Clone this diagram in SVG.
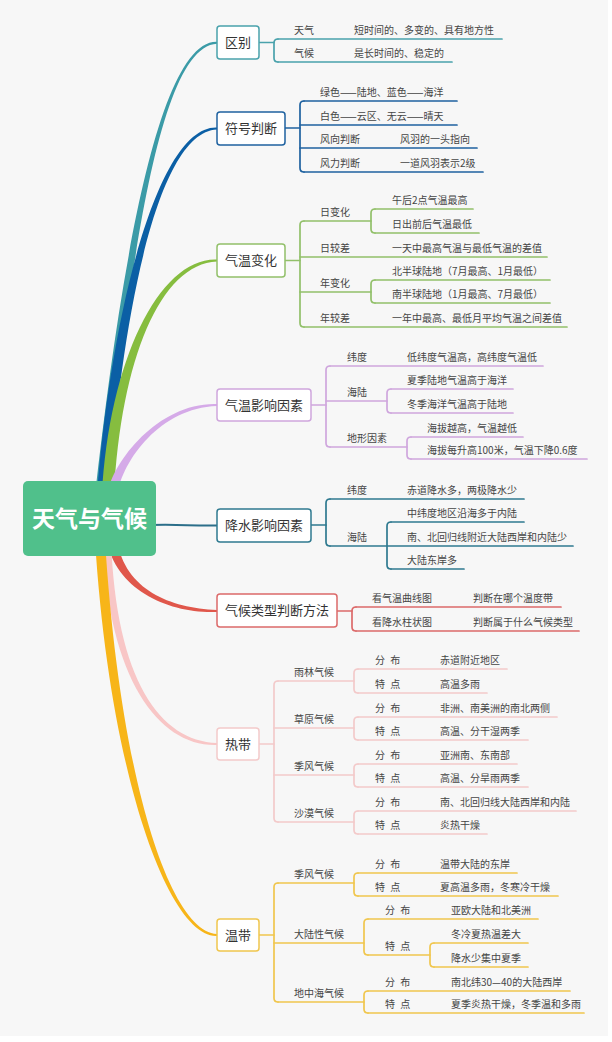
<svg xmlns="http://www.w3.org/2000/svg" width="612" height="1042" viewBox="0 0 612 1042">
<style>
text{font-family:"Noto Sans CJK SC","Noto Sans",sans-serif;}
.t{font-size:10px;fill:#454545;}
.s{letter-spacing:1.5px;}
.m{font-size:13px;fill:#333;text-anchor:middle;}
.box{fill:#fff;stroke-width:1.5;}
.ln{fill:none;stroke-width:1.7;stroke-linecap:round;}
.c1{stroke:#4aa2ac}.c2{stroke:#1f62a0}.c3{stroke:#92c06a}.c4{stroke:#cfa6dd}
.c5{stroke:#2f7a90}.c6{stroke:#dc6a6a}.c7{stroke:#f3caca}.c8{stroke:#f0c64e}
</style>
<rect x="0" y="0" width="612" height="1042" fill="#ffffff"/>
<rect x="0" y="0" width="608" height="1036" fill="#f7f7f7"/>
<g id="connectors">
  <!-- tapered main branches -->
  <path fill="#3b9ba7" d="M95 495 C117 300 155 40 217 41.8 L217 43.8 C155 46 127 300 105 495 Z"/>
  <path fill="#0b5fa5" d="M97 495 C109 330 155 125 217 127.5 L217 129.5 C155 132 121 330 109 495 Z"/>
  <path fill="#86bd3f" d="M102 495 C109 360 160 257 217 259.5 L217 261.5 C160 264 121 360 114 495 Z"/>
  <path fill="#d5aae8" d="M107 495 C113 460 160 402 217 404 L217 406 C160 408 123 460 117 495 Z"/>
  <path fill="#e0574b" d="M107 540 C115 590 170 614 217 612 L217 610 C170 608 125 590 117 540 Z"/>
  <path fill="#f8c6c6" d="M103 540 C108 680 160 747 217 745 L217 743 C160 741 116 680 111 540 Z"/>
  <path fill="#f7b519" d="M95 540 C110 780 170 938 217 936 L217 934 C170 932 120 780 105 540 Z"/>
  <path fill="none" stroke="#2c6f8a" stroke-width="2" d="M150 525 C180 524 190 526 217 525.5"/>

  <!-- 区别 -->
  <g class="ln c1">
    <path d="M259 42.5 H274"/>
    <path d="M278 39 Q274 39 274 43 V58 Q274 62 278 62"/>
    <path d="M278 39 H502"/><path d="M278 62 H452"/>
  </g>
  <!-- 符号判断 -->
  <g class="ln c2">
    <path d="M285 128 H300"/>
    <path d="M304 101 Q300 101 300 105 V168 Q300 172 304 172"/>
    <path d="M304 101 H457"/><path d="M300 125 H457"/><path d="M300 148 H477"/><path d="M304 172 H483"/>
  </g>
  <!-- 气温变化 -->
  <g class="ln c3">
    <path d="M285 260.5 H300"/>
    <path d="M304 221 Q300 221 300 225 V323 Q300 327 304 327"/>
    <path d="M304 221 H371"/><path d="M300 257 H547"/><path d="M300 292 H371"/><path d="M304 327 H567"/>
    <path d="M375 209 Q371 209 371 213 V229 Q371 233 375 233"/>
    <path d="M375 209 H473"/><path d="M375 233 H479"/>
    <path d="M375 280 Q371 280 371 284 V299 Q371 303 375 303"/>
    <path d="M375 280 H550"/><path d="M375 303 H550"/>
  </g>
  <!-- 气温影响因素 -->
  <g class="ln c4">
    <path d="M311 405 H326"/>
    <path d="M330 366 Q326 366 326 370 V443 Q326 447 330 447"/>
    <path d="M330 366 H543"/><path d="M326 401 H387"/><path d="M330 447 H407"/>
    <path d="M391 389 Q387 389 387 393 V409 Q387 413 391 413"/>
    <path d="M391 389 H513"/><path d="M391 413 H513"/>
    <path d="M411 437 Q407 437 407 441 V455 Q407 459 411 459"/>
    <path d="M411 437 H523"/><path d="M411 459 H587"/>
  </g>
  <!-- 降水影响因素 -->
  <g class="ln c5">
    <path d="M311 525 H326"/>
    <path d="M330 499 Q326 499 326 503 V542 Q326 546 330 546"/>
    <path d="M330 499 H524"/><path d="M330 546 H573"/>
    <path d="M391 522 Q387 522 387 526 V565 Q387 569 391 569"/>
    <path d="M391 522 H524"/><path d="M391 569 H464"/>
  </g>
  <!-- 气候类型判断方法 -->
  <g class="ln c6">
    <path d="M337 611 H352"/>
    <path d="M356 607 Q352 607 352 611 V627 Q352 631 356 631"/>
    <path d="M356 607 H561"/><path d="M356 631 H579"/>
  </g>
  <!-- 热带 -->
  <g class="ln c7">
    <path d="M259 744 H274"/>
    <path d="M278 681 Q274 681 274 685 V818 Q274 822 278 822"/>
    <path d="M278 681 H354"/><path d="M274 728 H354"/><path d="M274 775 H354"/><path d="M278 822 H354"/>
    <path d="M358 669 Q354 669 354 673 V689 Q354 693 358 693"/>
    <path d="M358 669 H507"/><path d="M358 693 H487"/>
    <path d="M358 717 Q354 717 354 721 V736 Q354 740 358 740"/>
    <path d="M358 717 H557"/><path d="M358 740 H528"/>
    <path d="M358 764 Q354 764 354 768 V783 Q354 787 358 787"/>
    <path d="M358 764 H517"/><path d="M358 787 H528"/>
    <path d="M358 811 Q354 811 354 815 V830 Q354 834 358 834"/>
    <path d="M358 811 H576"/><path d="M358 834 H487"/>
  </g>
  <!-- 温带 -->
  <g class="ln c8">
    <path d="M259 935 H274"/>
    <path d="M278 883 Q274 883 274 887 V998 Q274 1002 278 1002"/>
    <path d="M278 883 H354"/><path d="M274 943 H364"/><path d="M278 1002 H364"/>
    <path d="M358 873 Q354 873 354 877 V892 Q354 896 358 896"/>
    <path d="M358 873 H517"/><path d="M358 896 H558"/>
    <path d="M368 919 Q364 919 364 923 V951 Q364 955 368 955"/>
    <path d="M368 919 H538"/><path d="M368 955 H430"/>
    <path d="M434 943 Q430 943 430 947 V963 Q430 967 434 967"/>
    <path d="M434 943 H528"/><path d="M434 967 H528"/>
    <path d="M368 991 Q364 991 364 995 V1009 Q364 1013 368 1013"/>
    <path d="M368 991 H570"/><path d="M368 1013 H584"/>
  </g>
</g>

<g id="root">
  <rect x="23" y="481" width="133" height="75" rx="5" fill="#50c08b"/>
  <text x="89.5" y="527" font-size="23" font-weight="bold" fill="#fff" text-anchor="middle">天气与气候</text>
</g>

<g id="n-qubie"><rect class="box c1" x="217" y="26" width="42" height="33" rx="3"/><text class="m" x="238" y="47">区别</text></g>
<g id="n-fuhao"><rect class="box c2" x="217" y="112" width="68" height="33" rx="3"/><text class="m" x="251" y="133">符号判断</text></g>
<g id="n-qiwenbianhua"><rect class="box c3" x="217" y="244" width="68" height="33" rx="3"/><text class="m" x="251" y="265">气温变化</text></g>
<g id="n-qiwenyingxiang"><rect class="box c4" x="217" y="389" width="94" height="32" rx="3"/><text class="m" x="264" y="410">气温影响因素</text></g>
<g id="n-jiangshui"><rect class="box c5" x="217" y="509" width="94" height="33" rx="3"/><text class="m" x="264" y="530">降水影响因素</text></g>
<g id="n-panduan"><rect class="box c6" x="217" y="594" width="120" height="33" rx="3"/><text class="m" x="277" y="615">气候类型判断方法</text></g>
<g id="n-redai"><rect class="box c7" x="217" y="728" width="42" height="32" rx="3"/><text class="m" x="238" y="749">热带</text></g>
<g id="n-wendai"><rect class="box c8" x="217" y="919" width="42" height="32" rx="3"/><text class="m" x="238" y="940">温带</text></g>

<g id="leaves-qubie" class="t">
  <g id="l-tianqi"><text class="t" x="294" y="34">天气</text><text class="t" x="354" y="34">短时间的、多变的、具有地方性</text></g>
  <g id="l-qihou"><text class="t" x="294" y="57">气候</text><text class="t" x="354" y="57">是长时间的、稳定的</text></g>
</g>
<g id="leaves-fuhao">
  <g id="l-lvse"><text class="t" x="320" y="96">绿色——陆地、蓝色——海洋</text></g>
  <g id="l-baise"><text class="t" x="320" y="120">白色——云区、无云——晴天</text></g>
  <g id="l-fengxiang"><text class="t" x="320" y="143">风向判断</text><text class="t" x="400" y="143">风羽的一头指向</text></g>
  <g id="l-fengli"><text class="t" x="320" y="167">风力判断</text><text class="t" x="400" y="167">一道风羽表示2级</text></g>
</g>
<g id="leaves-qiwenbianhua">
  <g id="l-ribianhua"><text class="t" x="320" y="216">日变化</text></g>
  <g id="l-wuhou"><text class="t" x="392" y="204">午后2点气温最高</text></g>
  <g id="l-richu"><text class="t" x="392" y="228">日出前后气温最低</text></g>
  <g id="l-rijiaocha"><text class="t" x="320" y="252">日较差</text><text class="t" x="392" y="252">一天中最高气温与最低气温的差值</text></g>
  <g id="l-nianbianhua"><text class="t" x="320" y="287">年变化</text></g>
  <g id="l-beibanqiu"><text class="t" x="392" y="275">北半球陆地（7月最高、1月最低）</text></g>
  <g id="l-nanbanqiu"><text class="t" x="392" y="298">南半球陆地（1月最高、7月最低）</text></g>
  <g id="l-nianjiaocha"><text class="t" x="320" y="322">年较差</text><text class="t" x="392" y="322">一年中最高、最低月平均气温之间差值</text></g>
</g>
<g id="leaves-qiwenyingxiang">
  <g id="l-weidu1"><text class="t" x="347" y="361">纬度</text><text class="t" x="407" y="361">低纬度气温高，高纬度气温低</text></g>
  <g id="l-hailu1"><text class="t" x="347" y="396">海陆</text></g>
  <g id="l-xiaji"><text class="t" x="407" y="384">夏季陆地气温高于海洋</text></g>
  <g id="l-dongji"><text class="t" x="407" y="408">冬季海洋气温高于陆地</text></g>
  <g id="l-dixing"><text class="t" x="347" y="442">地形因素</text></g>
  <g id="l-haiba1"><text class="t" x="427" y="432">海拔越高，气温越低</text></g>
  <g id="l-haiba2"><text class="t" x="427" y="454">海拔每升高100米，气温下降0.6度</text></g>
</g>
<g id="leaves-jiangshui">
  <g id="l-weidu2"><text class="t" x="347" y="494">纬度</text><text class="t" x="407" y="494">赤道降水多，两极降水少</text></g>
  <g id="l-hailu2"><text class="t" x="347" y="541">海陆</text></g>
  <g id="l-zhongweidu"><text class="t" x="407" y="517">中纬度地区沿海多于内陆</text></g>
  <g id="l-huiguixian"><text class="t" x="407" y="541">南、北回归线附近大陆西岸和内陆少</text></g>
  <g id="l-dongan"><text class="t" x="407" y="564">大陆东岸多</text></g>
</g>
<g id="leaves-panduan">
  <g id="l-qiwenquxian"><text class="t" x="372" y="602">看气温曲线图</text><text class="t" x="473" y="602">判断在哪个温度带</text></g>
  <g id="l-jiangshuizhu"><text class="t" x="372" y="626">看降水柱状图</text><text class="t" x="473" y="626">判断属于什么气候类型</text></g>
</g>
<g id="leaves-redai">
  <g id="l-yulin"><text class="t" x="294" y="676">雨林气候</text></g>
  <g id="l-yulin-fb"><text class="t s" x="375" y="664">分 布</text><text class="t" x="440" y="664">赤道附近地区</text></g>
  <g id="l-yulin-td"><text class="t s" x="375" y="688">特 点</text><text class="t" x="440" y="688">高温多雨</text></g>
  <g id="l-caoyuan"><text class="t" x="294" y="723">草原气候</text></g>
  <g id="l-caoyuan-fb"><text class="t s" x="375" y="712">分 布</text><text class="t" x="440" y="712">非洲、南美洲的南北两侧</text></g>
  <g id="l-caoyuan-td"><text class="t s" x="375" y="735">特 点</text><text class="t" x="440" y="735">高温、分干湿两季</text></g>
  <g id="l-jifeng1"><text class="t" x="294" y="770">季风气候</text></g>
  <g id="l-jifeng1-fb"><text class="t s" x="375" y="759">分 布</text><text class="t" x="440" y="759">亚洲南、东南部</text></g>
  <g id="l-jifeng1-td"><text class="t s" x="375" y="782">特 点</text><text class="t" x="440" y="782">高温、分旱雨两季</text></g>
  <g id="l-shamo"><text class="t" x="294" y="817">沙漠气候</text></g>
  <g id="l-shamo-fb"><text class="t s" x="375" y="806">分 布</text><text class="t" x="440" y="806">南、北回归线大陆西岸和内陆</text></g>
  <g id="l-shamo-td"><text class="t s" x="375" y="829">特 点</text><text class="t" x="440" y="829">炎热干燥</text></g>
</g>
<g id="leaves-wendai">
  <g id="l-jifeng2"><text class="t" x="294" y="878">季风气候</text></g>
  <g id="l-jifeng2-fb"><text class="t s" x="375" y="868">分 布</text><text class="t" x="440" y="868">温带大陆的东岸</text></g>
  <g id="l-jifeng2-td"><text class="t s" x="375" y="891">特 点</text><text class="t" x="440" y="891">夏高温多雨，冬寒冷干燥</text></g>
  <g id="l-daluxing"><text class="t" x="294" y="938">大陆性气候</text></g>
  <g id="l-daluxing-fb"><text class="t s" x="385" y="914">分 布</text><text class="t" x="451" y="914">亚欧大陆和北美洲</text></g>
  <g id="l-daluxing-td"><text class="t s" x="385" y="950">特 点</text></g>
  <g id="l-dongleng"><text class="t" x="451" y="938">冬冷夏热温差大</text></g>
  <g id="l-jiangshuishao"><text class="t" x="451" y="962">降水少集中夏季</text></g>
  <g id="l-dizhonghai"><text class="t" x="294" y="997">地中海气候</text></g>
  <g id="l-dizhonghai-fb"><text class="t s" x="385" y="986">分 布</text><text class="t" x="451" y="986">南北纬30—40的大陆西岸</text></g>
  <g id="l-dizhonghai-td"><text class="t s" x="385" y="1008">特 点</text><text class="t" x="451" y="1008">夏季炎热干燥，冬季温和多雨</text></g>
</g>
</svg>
